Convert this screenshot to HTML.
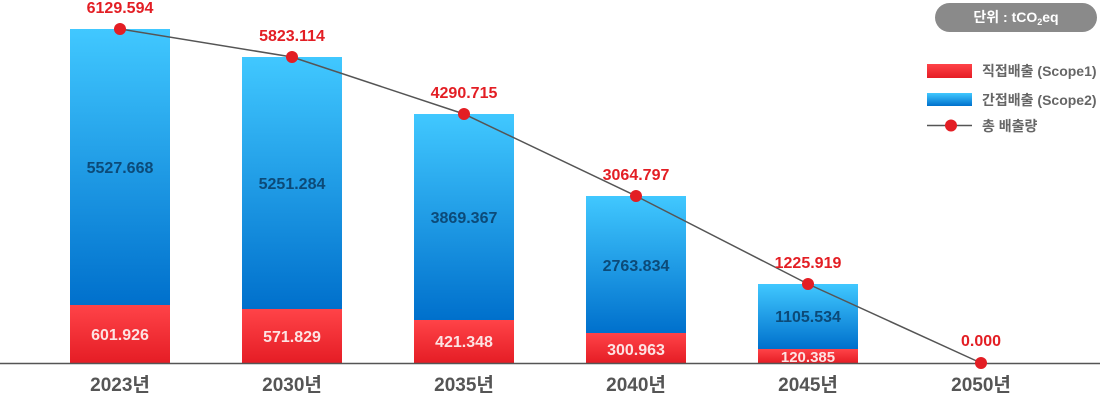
<!DOCTYPE html><html><head><meta charset="utf-8"><style>
body{margin:0;width:1100px;height:405px;background:#fff;overflow:hidden;font-family:"Liberation Sans","Noto Sans CJK KR",sans-serif}
</style></head><body>
<svg width="1100" height="405" xmlns="http://www.w3.org/2000/svg" style="font-family:'Liberation Sans','Noto Sans CJK KR',sans-serif">
<defs>
<linearGradient id="b" x1="0" y1="0" x2="0" y2="1"><stop offset="0" stop-color="#41c8ff"/><stop offset="1" stop-color="#0070cc"/></linearGradient>
<linearGradient id="r" x1="0" y1="0" x2="0" y2="1"><stop offset="0" stop-color="#ff4348"/><stop offset="1" stop-color="#e51d25"/></linearGradient>
</defs>
<g>
<rect x="70" y="29" width="100" height="276" fill="url(#b)"/><rect x="70" y="305" width="100" height="58" fill="url(#r)"/>
<rect x="242" y="57" width="100" height="252" fill="url(#b)"/><rect x="242" y="309" width="100" height="54" fill="url(#r)"/>
<rect x="414" y="114" width="100" height="206" fill="url(#b)"/><rect x="414" y="320" width="100" height="43" fill="url(#r)"/>
<rect x="586" y="196" width="100" height="137" fill="url(#b)"/><rect x="586" y="333" width="100" height="30" fill="url(#r)"/>
<rect x="758" y="284" width="100" height="65" fill="url(#b)"/><rect x="758" y="349" width="100" height="14" fill="url(#r)"/>
</g>
<line x1="0" y1="363.5" x2="1100" y2="363.5" stroke="#555" stroke-width="1.5"/>
<polyline points="120,29 292,57 464,114 636,196 808,284 981,363" fill="none" stroke="#555" stroke-width="1.5"/>
<g fill="#e31e24"><circle cx="120" cy="29" r="6"/><circle cx="292" cy="57" r="6"/><circle cx="464" cy="114" r="6"/><circle cx="636" cy="196" r="6"/><circle cx="808" cy="284" r="6"/><circle cx="981" cy="363" r="6"/></g>
<g font-size="16" font-weight="bold" fill="#e31e24" text-anchor="middle">
<text x="120" y="13">6129.594</text><text x="292" y="41">5823.114</text><text x="464" y="98">4290.715</text><text x="636" y="180">3064.797</text><text x="808" y="268">1225.919</text><text x="981" y="346">0.000</text>
</g>
<g font-size="16" font-weight="bold" fill="#0c4a78" text-anchor="middle">
<text x="120" y="173">5527.668</text><text x="292" y="189">5251.284</text><text x="464" y="223">3869.367</text><text x="636" y="271">2763.834</text><text x="808" y="322">1105.534</text>
</g>
<g font-size="16" font-weight="bold" fill="#fde3e3" text-anchor="middle">
<text x="120" y="340">601.926</text><text x="292" y="342">571.829</text><text x="464" y="347">421.348</text><text x="636" y="355">300.963</text><text x="808" y="362" font-size="15">120.385</text>
</g>
<g font-size="19" font-weight="bold" fill="#555" text-anchor="middle">
<text x="120" y="391">2023년</text><text x="292" y="391">2030년</text><text x="464" y="391">2035년</text><text x="636" y="391">2040년</text><text x="808" y="391">2045년</text><text x="981" y="391">2050년</text>
</g>
<rect x="935" y="3" width="162" height="29" rx="14.5" fill="#8a8a8a"/>
<text x="1016" y="22" font-size="14" font-weight="bold" fill="#fff" text-anchor="middle">단위 : tCO<tspan font-size="9" dy="3">2</tspan><tspan dy="-3">eq</tspan></text>
<rect x="927" y="64" width="45" height="14" fill="url(#r)"/>
<rect x="927" y="93" width="45" height="13" fill="url(#b)"/>
<line x1="927" y1="125.5" x2="972" y2="125.5" stroke="#555" stroke-width="1.5"/><circle cx="951" cy="125.5" r="6" fill="#e31e24"/>
<g font-size="14" font-weight="bold" fill="#666">
<text x="982" y="76">직접배출 (Scope1)</text><text x="982" y="105">간접배출 (Scope2)</text><text x="982" y="131">총 배출량</text>
</g>
</svg>
</body></html>
